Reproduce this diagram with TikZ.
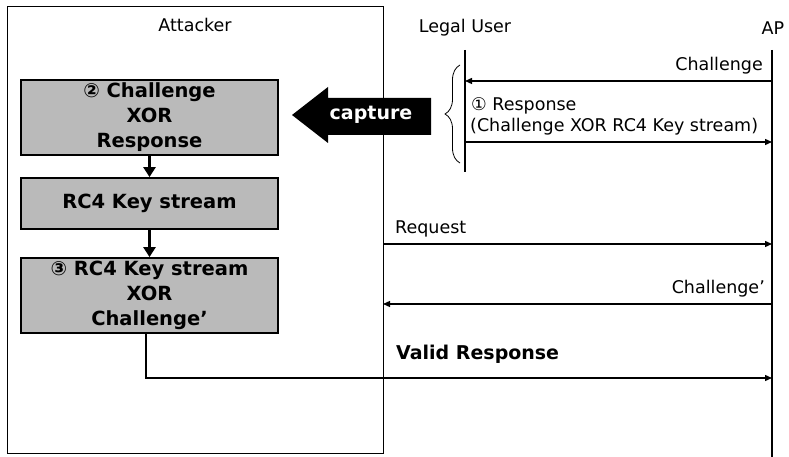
\documentclass[tikz,border=0pt]{standalone}
\usepackage{fontspec}
\setmainfont{DejaVu Sans}
\usetikzlibrary{arrows.meta,decorations.pathreplacing}
\begin{document}
\begin{tikzpicture}[x=1bp,y=-1bp,
  lbl/.style={font=\fontsize{17.5bp}{21bp}\selectfont, inner sep=0pt},
  boldlbl/.style={font=\bfseries\fontsize{19bp}{23bp}\selectfont, inner sep=0pt},
  proc/.style={draw=black, line width=1.8bp, fill=black!27, minimum width=257bp,
    align=center, font=\bfseries\fontsize{19.5bp}{25bp}\selectfont, inner sep=0pt},
  flow/.style={line width=2.5bp, -{Triangle[length=10bp,width=12bp]}},
  msg/.style={line width=1.3bp, -{Triangle[length=7bp,width=6bp]}},
  life/.style={line width=2.2bp},
  framebox/.style={draw=black, line width=0.8bp, inner sep=0pt}
]
\useasboundingbox (0,0) rectangle (789,457);

% attacker frame
\node[framebox, minimum width=376bp, minimum height=447bp] (att) at (195,229.5) {};
\node[lbl] (attl) at (195,25) {Attacker};

% process boxes
\node[proc, minimum height=75bp] (b1) at (149.5,117.5) {② Challenge\\XOR\\Response};
\node[proc, minimum height=51bp] (b2) at (149.5,203.5) {RC4 Key stream};
\node[proc, minimum height=75bp] (b3) at (149.5,295.5) {③ RC4 Key stream\\XOR\\Challenge’};
\draw[flow] (b1) -- (b2);
\draw[flow] (b2) -- (b3);

% lifelines
\node[lbl] (lu) at (465,28) {Legal User};
\node[lbl] (ap) at (773,28) {AP};
\coordinate (luT) at (465,50);
\coordinate (luB) at (465,172);
\coordinate (apT) at (772,50);
\coordinate (apB) at (772,457);
\draw[life] (luT) -- (luB);
\draw[life] (apT) -- (apB);

% messages
\coordinate (apC1) at (772,81);
\coordinate (luC1) at (465,81);
\draw[msg] (apC1) -- (luC1);
\node[lbl, anchor=east] (lchal) at (763,66) {Challenge};

\coordinate (luC2) at (465,142);
\coordinate (apC2) at (772,142);
\draw[msg] (luC2) -- (apC2);
\node[lbl, anchor=west] (lresp1) at (471,106) {① Response};
\node[lbl, anchor=west] (lresp2) at (470,127) {(Challenge XOR RC4 Key stream)};

\coordinate (atR) at (383,244);
\coordinate (apR) at (772,244);
\draw[msg] (atR) -- (apR);
\node[lbl, anchor=west] (lreq) at (395,229) {Request};

\coordinate (apC3) at (772,304);
\coordinate (atC3) at (383,304);
\draw[msg] (apC3) -- (atC3);
\node[lbl, anchor=east] (lchal2) at (765,289) {Challenge’};

\coordinate (vr) at (772,378);
\draw[msg] ([xshift=-3.5bp]b3.south) |- (vr);
\node[boldlbl, anchor=west] (lvalid) at (396,354) {Valid Response};

% capture arrow
\fill[black] (292,115) -- (328,87) -- (328,98) -- (431,98) -- (431,135) -- (328,135) -- (328,143) -- cycle;
\node[boldlbl, text=white] (cap) at (371,115) {capture};

% brace
\draw[line width=0.8bp, decorate, decoration={brace, amplitude=15bp}] (460,163) -- (460,65);
\end{tikzpicture}
\end{document}
